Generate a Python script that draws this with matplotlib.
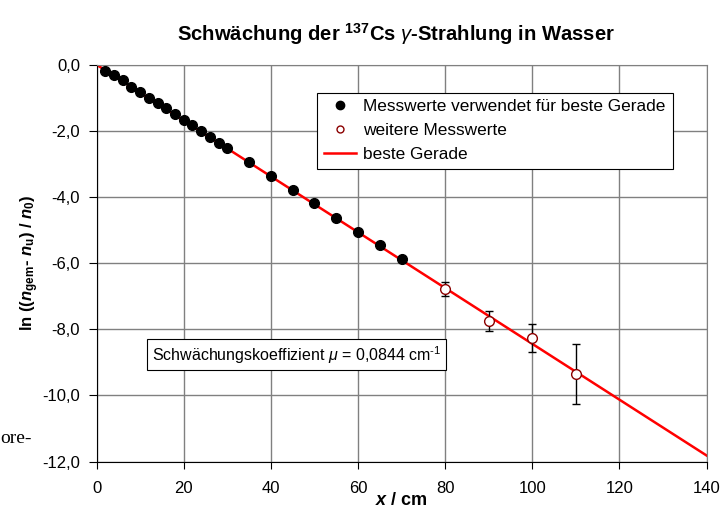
import matplotlib
matplotlib.use('Agg')
import matplotlib.pyplot as plt
from matplotlib.ticker import FuncFormatter, MultipleLocator
from matplotlib.lines import Line2D
import numpy as np

plt.rcParams['font.family'] = ['Liberation Sans', 'DejaVu Sans']
plt.rcParams['mathtext.fontset'] = 'custom'
plt.rcParams['mathtext.rm'] = 'Liberation Sans'
plt.rcParams['mathtext.it'] = 'Liberation Sans:italic'
plt.rcParams['mathtext.bf'] = 'Liberation Sans:bold'
plt.rcParams['mathtext.bfit'] = 'Liberation Sans:italic:bold'

# Messwerte fuer die Ausgleichsgerade
x_fit = [2, 4, 6, 8, 10, 12, 14, 16, 18, 20, 22, 24, 26, 28, 30,
         35, 40, 45, 50, 55, 60, 65, 70]
y_fit = [-0.19, -0.31, -0.46, -0.66, -0.82, -0.99, -1.15, -1.32, -1.50, -1.67,
         -1.82, -2.00, -2.18, -2.36, -2.52,
         -2.93, -3.36, -3.79, -4.19, -4.63, -5.05, -5.45, -5.88]

# weitere Messwerte mit Fehlerbalken
x_more = [80, 90, 100, 110]
y_more = [-6.78, -7.75, -8.27, -9.36]
y_err = [0.20, 0.29, 0.43, 0.91]

mu = 0.0844
x_line = [0, 140]

fig = plt.figure(figsize=(7.21, 5.14), dpi=100)
ax = fig.add_axes([0.134, 0.102, 0.846, 0.772])

ax.plot(x_line, [-mu * v for v in x_line], color='red', lw=1.8, zorder=2)
ax.plot(x_fit, y_fit, 'o', color='black', ms=7, zorder=3)
ax.errorbar(x_more, y_more, yerr=y_err, fmt='none', ecolor='black',
            elinewidth=1, capsize=3, capthick=1, zorder=3)
ax.plot(x_more, y_more, 'o', mfc='white', mec='#8b0000', mew=1, ms=7, zorder=4)

ax.set_xlim(0, 140)
ax.set_ylim(-12, 0)
ax.xaxis.set_major_locator(MultipleLocator(20))
ax.yaxis.set_major_locator(MultipleLocator(2))
ax.yaxis.set_major_formatter(FuncFormatter(lambda v, p: f'{v:.1f}'.replace('.', ',')))
ax.grid(True, color='#808080', lw=1)
ax.set_axisbelow(True)
for s in ['top', 'right']:
    ax.spines[s].set_color('#808080')
ax.tick_params(axis='x', direction='out', length=5, pad=9, labelsize=12)
ax.tick_params(axis='y', direction='out', length=6, pad=6, labelsize=12)
ax.tick_params(top=False, right=False)

ax.set_title(r'Schwächung der $^{\mathbf{137}}$Cs $\gamma$-Strahlung in Wasser',
             fontsize=14.6, fontweight='bold', pad=17, x=0.491)
ax.set_xlabel(r'$\mathbfit{x}$ / cm', fontsize=13, fontweight='bold', labelpad=-3)
ax.set_ylabel(r'ln (($\mathbfit{n}_{\mathbf{gem}}$- $\mathbfit{n}_{\mathbf{u}}$) / $\mathbfit{n}_{\mathbf{0}}$)',
              fontsize=12, fontweight='bold', labelpad=1)

handles = [
    Line2D([0], [0], marker='o', color='none', mfc='black', mec='black', ms=6,
           label='Messwerte verwendet für beste Gerade'),
    Line2D([0], [0], marker='o', color='none', mfc='white', mec='#8b0000', ms=5,
           label='weitere Messwerte'),
    Line2D([0], [0], color='red', lw=1.8, label='beste Gerade'),
]
leg = ax.legend(handles=handles, loc='upper left', bbox_to_anchor=(0.361, 0.930),
                fontsize=12.4, frameon=True, fancybox=False, framealpha=1,
                edgecolor='black', handlelength=1.9, handletextpad=0.4,
                labelspacing=0.5, borderpad=0.4, borderaxespad=0)
leg.get_frame().set_linewidth(0.8)

ax.text(0.328, 0.269, r'Schwächungskoeffizient $\mu$ = 0,0844 cm$^{\text{-}1}$',
        transform=ax.transAxes, ha='center', va='center', fontsize=11.5,
        bbox=dict(boxstyle='square,pad=0.3', fc='white', ec='black', lw=0.8))

fig.text(0.0, 0.146, 'ore-', family='Liberation Serif', fontsize=14, va='center')

fig.savefig('out.png', dpi=100)
